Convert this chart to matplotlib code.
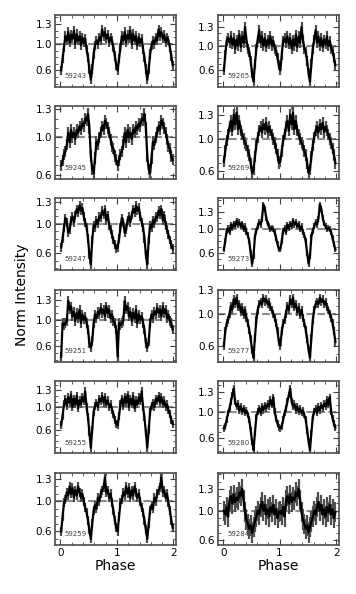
"""
Phase-folded light curves, one panel per night (MJD label)
"""
import numpy as np
import matplotlib
matplotlib.use("Agg")
import matplotlib.pyplot as plt
from matplotlib.ticker import MultipleLocator

# phase bins for one cycle; the cycle is shown twice (0-1 and 1-2)
phase = (np.arange(40) + 0.5) / 40

mjd_left = ["59243", "59245", "59247", "59251", "59255", "59259"]
mjd_right = ["59265", "59269", "59273", "59277", "59280", "59284"]

flux = {
    "59243": [0.60, 0.78, 0.95, 1.12, 1.05, 1.18, 1.02, 1.14, 1.08, 1.20,
              1.00, 1.15, 1.05, 1.12, 0.98, 1.10, 1.02, 1.08, 0.92, 0.80,
              0.62, 0.46, 0.62, 0.85, 0.98, 1.05, 1.00, 1.10, 1.05, 1.22,
              1.12, 1.18, 1.08, 1.14, 1.02, 1.10, 1.05, 0.95, 0.82, 0.68],
    "59245": [0.70, 0.75, 0.82, 0.85, 0.92, 1.05, 0.95, 1.08, 1.00, 1.05,
              0.98, 1.08, 1.05, 1.12, 1.08, 1.15, 1.12, 1.20, 1.18, 1.25,
              1.10, 0.80, 0.66, 0.62, 0.78, 0.95, 0.92, 1.00, 1.05, 1.12,
              1.08, 1.18, 1.15, 1.10, 1.05, 0.98, 0.90, 0.88, 0.80, 0.76],
    "59247": [0.68, 0.80, 0.95, 1.08, 1.02, 0.88, 0.92, 1.05, 1.10, 1.02,
              1.12, 1.20, 1.15, 1.25, 1.18, 1.22, 1.10, 1.02, 0.95, 0.80,
              0.58, 0.45, 0.78, 0.98, 0.95, 1.05, 1.00, 1.10, 1.08, 1.18,
              1.12, 1.20, 1.05, 1.12, 0.98, 0.92, 0.85, 0.78, 0.72, 0.66],
    "59251": [0.45, 0.95, 0.92, 0.95, 0.98, 1.28, 1.15, 1.20, 1.05, 1.12,
              0.98, 1.10, 1.02, 1.15, 0.95, 1.08, 1.00, 1.05, 0.95, 0.85,
              0.65, 0.58, 0.68, 0.95, 1.08, 1.02, 1.12, 1.08, 1.18, 1.10,
              1.15, 1.05, 1.20, 1.10, 1.15, 1.02, 1.08, 0.98, 0.95, 0.85],
    "59255": [0.68, 0.85, 1.05, 1.15, 1.02, 1.18, 1.08, 1.22, 1.00, 1.15,
              1.05, 1.20, 0.98, 1.12, 1.05, 1.18, 1.10, 1.28, 1.00, 0.82,
              0.55, 0.28, 0.60, 0.92, 1.02, 1.08, 1.00, 1.15, 1.10, 1.20,
              1.08, 1.18, 1.05, 1.12, 1.00, 1.05, 0.95, 0.88, 0.78, 0.70],
    "59259": [0.60, 0.80, 0.98, 1.02, 1.12, 1.08, 1.20, 1.10, 1.18, 1.05,
              1.15, 1.08, 1.20, 1.12, 1.05, 1.10, 1.00, 0.92, 0.85, 0.75,
              0.62, 0.50, 0.70, 0.88, 0.95, 0.90, 1.05, 1.00, 1.10, 1.15,
              1.18, 1.32, 1.12, 1.15, 1.05, 1.10, 0.98, 0.88, 0.75, 0.65],
    "59265": [0.60, 0.85, 1.08, 1.12, 1.05, 1.15, 1.02, 1.12, 0.95, 1.10,
              1.00, 1.18, 0.98, 1.15, 1.05, 1.30, 1.10, 0.95, 0.90, 0.75,
              0.55, 0.42, 0.70, 0.95, 1.10, 1.25, 1.05, 1.15, 1.00, 1.12,
              0.98, 1.10, 1.02, 1.15, 1.00, 1.08, 0.95, 0.92, 0.80, 0.68],
    "59269": [0.72, 0.85, 0.98, 1.05, 1.15, 1.22, 1.10, 1.30, 1.18, 1.32,
              1.12, 1.22, 1.10, 1.05, 1.00, 0.95, 0.92, 0.85, 0.80, 0.70,
              0.58, 0.62, 0.78, 0.92, 1.02, 1.10, 1.15, 1.08, 1.18, 1.12,
              1.20, 1.08, 1.15, 1.10, 1.05, 1.00, 0.95, 0.88, 0.80, 0.70],
    "59273": [0.66, 0.80, 0.98, 1.02, 0.95, 1.08, 1.02, 1.10, 1.05, 1.15,
              1.08, 1.12, 1.05, 1.10, 1.00, 1.05, 0.95, 0.90, 0.80, 0.60,
              0.42, 0.55, 0.88, 0.98, 1.05, 1.12, 1.08, 1.18, 1.42, 1.35,
              1.20, 1.10, 1.05, 1.00, 1.02, 1.00, 0.95, 0.85, 0.75, 0.66],
    "59277": [0.60, 0.78, 0.88, 0.92, 1.00, 1.10, 1.05, 1.18, 1.12, 1.20,
              1.08, 1.12, 1.02, 1.08, 0.98, 1.05, 0.95, 0.88, 0.80, 0.68,
              0.55, 0.45, 0.70, 0.92, 1.05, 1.12, 1.15, 1.12, 1.20, 1.15,
              1.18, 1.12, 1.15, 1.08, 1.05, 1.00, 0.95, 0.88, 0.78, 0.65],
    "59280": [0.75, 0.78, 0.88, 0.98, 1.05, 1.15, 1.25, 1.35, 1.15, 1.08,
              1.12, 1.02, 1.08, 1.00, 1.05, 0.98, 1.02, 0.95, 0.88, 0.72,
              0.55, 0.42, 0.68, 0.92, 1.00, 1.05, 0.98, 1.08, 1.02, 1.10,
              1.05, 1.12, 1.08, 1.18, 1.10, 1.22, 1.00, 0.90, 0.82, 0.76],
    "59284": [1.00, 0.95, 1.05, 0.92, 1.15, 1.20, 1.10, 1.22, 1.12, 1.18,
              1.15, 1.25, 1.20, 1.30, 1.15, 0.98, 0.88, 0.82, 0.75, 0.80,
              0.70, 0.78, 0.85, 0.92, 1.00, 0.95, 1.05, 1.12, 1.00, 1.08,
              0.95, 1.02, 0.92, 1.05, 0.98, 1.08, 0.95, 1.02, 0.90, 0.98],
}

# typical error bar size per night
err = {"59243": 0.07, "59245": 0.06, "59247": 0.06, "59251": 0.07,
       "59255": 0.07, "59259": 0.06, "59265": 0.08, "59269": 0.07,
       "59273": 0.05, "59277": 0.05, "59280": 0.05, "59284": 0.14}

ylims = {"59243": (0.35, 1.44), "59245": (0.56, 1.33), "59247": (0.37, 1.35),
         "59251": (0.37, 1.45), "59255": (0.18, 1.46), "59259": (0.42, 1.38),
         "59265": (0.33, 1.50), "59269": (0.51, 1.40), "59273": (0.31, 1.53),
         "59277": (0.40, 1.30), "59280": (0.37, 1.46), "59284": (0.53, 1.52)}

fig, axes = plt.subplots(6, 2, figsize=(3.56, 5.94), dpi=100)
fig.subplots_adjust(left=0.154, right=0.952, top=0.975, bottom=0.0825,
                    wspace=0.34, hspace=0.27)

for col, names in enumerate([mjd_left, mjd_right]):
    for row, name in enumerate(names):
        ax = axes[row, col]
        y = np.array(flux[name])
        x2 = np.concatenate([phase, phase + 1])
        y2 = np.concatenate([y, y])
        ax.axhline(1.0, color="0.55", lw=1.5, ls="--", zorder=0)
        ax.errorbar(x2, y2, yerr=err[name], fmt="none", ecolor="0.3",
                    elinewidth=1.6, zorder=1)
        ax.plot(x2, y2, color="black", lw=1.6, zorder=2)
        ax.set_xlim(-0.1, 2.05)
        ax.set_ylim(*ylims[name])
        ax.set_xticks([0, 1, 2])
        ax.set_yticks([0.6, 1.0, 1.3])
        ax.set_yticklabels(["0.6", "1.0", "1.3"])
        ax.xaxis.set_minor_locator(MultipleLocator(0.2))
        ax.yaxis.set_minor_locator(MultipleLocator(0.1))
        ax.tick_params(which="both", direction="in", top=True, right=True,
                       labelsize=7.5, color="0.25", pad=2)
        ax.tick_params(which="major", length=4, width=0.8)
        ax.tick_params(which="minor", length=2, width=0.6)
        for sp in ax.spines.values():
            sp.set_color("0.3")
            sp.set_linewidth(1.2)
        ax.text(0.08, 0.15, name, transform=ax.transAxes, fontsize=5,
                color="0.25", va="center", ha="left")
        if row < 5:
            ax.tick_params(labelbottom=False)
        else:
            ax.set_xlabel("Phase", fontsize=10, labelpad=1)

fig.text(0.062, 0.503, "Norm Intensity", rotation=90, fontsize=10,
         ha="center", va="center")

fig.savefig("out.png", dpi=100)
